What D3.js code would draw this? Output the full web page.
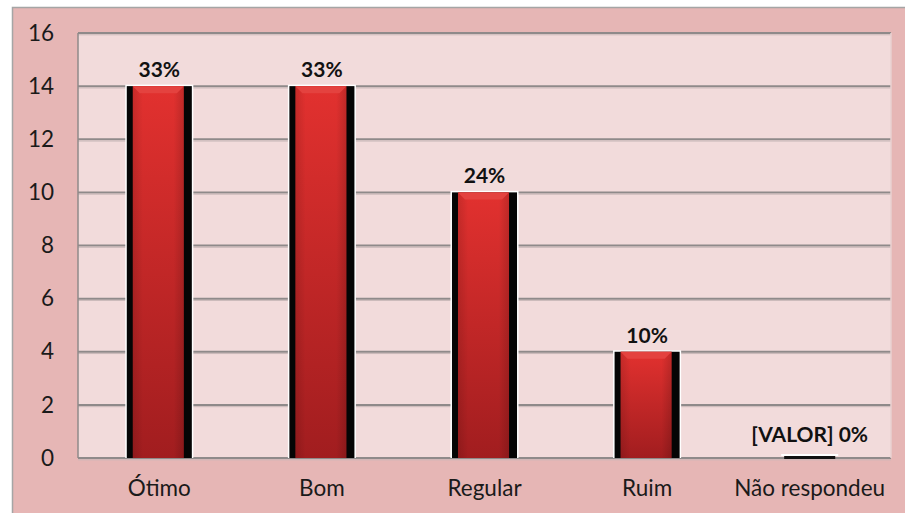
<!DOCTYPE html>
<html><head><meta charset="utf-8">
<script src="https://cdn.jsdelivr.net/npm/d3@7"></script>
<style>html,body{margin:0;padding:0;background:#fff;}svg{display:block;}</style>
</head><body>
<script>
const categories = ["Ótimo", "Bom", "Regular", "Ruim", "Não respondeu"];
const values = [14, 14, 10, 4, 0];
const labels = ["33%", "33%", "24%", "10%", "[VALOR] 0%"];
const yTicks = [0, 2, 4, 6, 8, 10, 12, 14, 16];

const W = 905, H = 513;
const svg = d3.select("body").append("svg").attr("width", W).attr("height", H);
const font = "Lato, 'Open Sans', sans-serif";

const defs = svg.append("defs");
const g1 = defs.append("linearGradient").attr("id", "red").attr("x1", 0).attr("y1", 0).attr("x2", 0).attr("y2", 1);
g1.append("stop").attr("offset", "0%").attr("stop-color", "#e2312f");
g1.append("stop").attr("offset", "100%").attr("stop-color", "#a11d1f");
const g2 = defs.append("linearGradient").attr("id", "redh").attr("x1", 0).attr("y1", 0).attr("x2", 1).attr("y2", 0);
g2.append("stop").attr("offset", "0%").attr("stop-color", "#000").attr("stop-opacity", 0.12);
g2.append("stop").attr("offset", "20%").attr("stop-color", "#000").attr("stop-opacity", 0);
g2.append("stop").attr("offset", "80%").attr("stop-color", "#000").attr("stop-opacity", 0);
g2.append("stop").attr("offset", "100%").attr("stop-color", "#000").attr("stop-opacity", 0.15);

// outer chart area
svg.append("rect").attr("x", 12).attr("y", 7).attr("width", W - 12).attr("height", H - 7)
  .attr("fill", "#e6b6b5");
svg.append("path").attr("d", `M12.5,${H}V7.5H${W}`).attr("fill", "none").attr("stroke", "#a5a5a5").attr("stroke-width", 1.5);

const plot = {left: 78, right: 891, top: 33, bottom: 458};
svg.append("rect").attr("x", plot.left).attr("y", plot.top)
  .attr("width", plot.right - plot.left).attr("height", plot.bottom - plot.top)
  .attr("fill", "#f2dbdb");

const x = d3.scaleBand().domain(categories).range([plot.left, plot.right])
  .paddingInner(0.6).paddingOuter(0.3);
const y = d3.scaleLinear().domain([0, 16]).range([plot.bottom, plot.top]);

// gridlines
const grid = svg.append("g");
grid.selectAll("line.g").data(yTicks).join("line")
  .attr("x1", plot.left).attr("x2", plot.right)
  .attr("y1", d => y(d)).attr("y2", d => y(d))
  .attr("stroke", "#8f8a8a").attr("stroke-width", 2);
grid.selectAll("line.s").data(yTicks).join("line")
  .attr("x1", plot.left).attr("x2", plot.right)
  .attr("y1", d => y(d) + 1.8).attr("y2", d => y(d) + 1.8)
  .attr("stroke", "#c9b8b8").attr("stroke-width", 1);
svg.append("line").attr("x1", plot.left).attr("x2", plot.left).attr("y1", plot.top).attr("y2", plot.bottom)
  .attr("stroke", "#8f8a8a").attr("stroke-width", 1.5);
svg.append("line").attr("x1", plot.right).attr("x2", plot.right).attr("y1", plot.top).attr("y2", plot.bottom)
  .attr("stroke", "#e9d0d0").attr("stroke-width", 1.5);

// y axis
const yAxis = d3.axisLeft(y).tickValues(yTicks).tickSize(0).tickPadding(0);
const ya = svg.append("g").attr("transform", `translate(54,0)`).call(yAxis);
ya.select(".domain").remove();
ya.selectAll("text").attr("font-family", font).attr("font-size", 22.5).attr("fill", "#1a1a1a");

// x axis
const xAxis = d3.axisBottom(x).tickSize(0).tickPadding(0);
const xa = svg.append("g").attr("transform", `translate(0,480)`).call(xAxis);
xa.select(".domain").remove();
xa.selectAll("text").attr("font-family", font).attr("font-size", 22.5).attr("fill", "#1a1a1a");

// bars
const bw = x.bandwidth();
const bars = svg.append("g").selectAll("g").data(categories).join("g");
bars.each(function(c, i) {
  const g = d3.select(this);
  const x0 = x(c), y0 = y(values[i]), y1 = y(0);
  const h = y1 - y0;
  if (h <= 0) {
    g.append("rect").attr("x", x0 + 4).attr("y", y1 - 4).attr("width", bw - 8).attr("height", 2).attr("fill", "#fff");
    g.append("rect").attr("x", x0 + 7).attr("y", y1 - 2).attr("width", bw - 14).attr("height", 3).attr("fill", "#111");
    return;
  }
  g.append("rect").attr("x", x0 - 1.5).attr("y", y0 - 1.5).attr("width", bw + 3).attr("height", h + 1.5).attr("fill", "#fff");
  g.append("rect").attr("x", x0).attr("y", y0).attr("width", bw).attr("height", h).attr("fill", "#050505");
  const lx = x0 + 6, rx = x0 + bw - 8;
  g.append("rect").attr("x", lx).attr("y", y0).attr("width", rx - lx).attr("height", h).attr("fill", "url(#red)");
  g.append("rect").attr("x", lx).attr("y", y0).attr("width", rx - lx).attr("height", h).attr("fill", "url(#redh)");
  const bv = 7;
  g.append("path").attr("d", `M${lx},${y0}H${rx}L${rx - bv},${y0 + bv}H${lx + bv}Z`).attr("fill", "#e4423f");
});

// data labels
svg.append("g").selectAll("text").data(categories).join("text")
  .attr("x", d => x(d) + bw / 2)
  .attr("y", (d, i) => y(values[i]) - (values[i] === 0 ? 16 : 9))
  .attr("text-anchor", "middle")
  .attr("font-family", font).attr("font-size", 21).attr("font-weight", "bold").attr("fill", "#111")
  .text((d, i) => labels[i]);
</script>
</body></html>
